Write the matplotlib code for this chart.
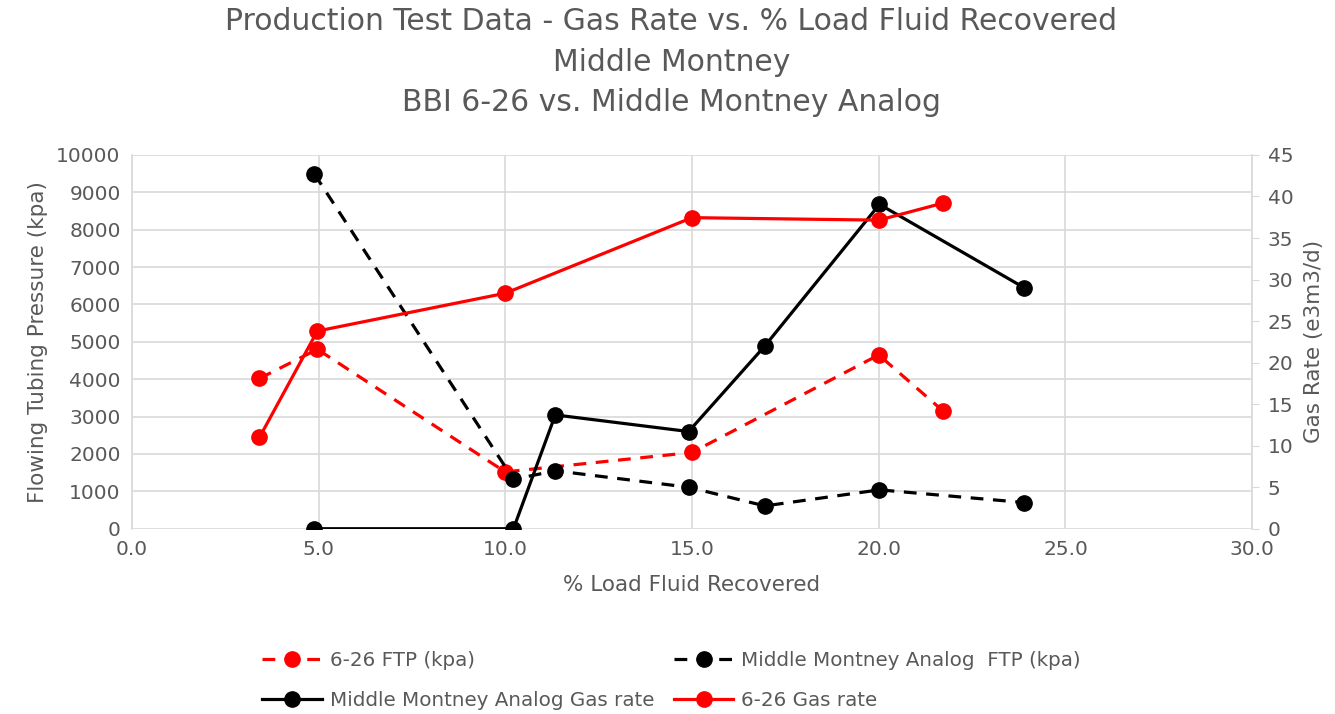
import matplotlib
matplotlib.use("Agg")
import matplotlib.pyplot as plt

# 6-26 well (red)
x_626 = [3.42, 4.97, 10.0, 15.0, 20.0, 21.72]
ftp_626 = [4020, 4800, 1520, 2040, 4650, 3150]
gas_626 = [11.0, 23.8, 28.35, 37.45, 37.15, 39.2]

# Middle Montney analog (black)
x_analog = [4.89, 10.22, 11.34, 14.91, 16.95, 20.02, 23.9]
ftp_analog = [9490, 1320, 1550, 1110, 610, 1040, 700]
gas_analog = [0, 0, 13.7, 11.7, 22.0, 39.05, 29.0]

xticks = [0, 5, 10, 15, 20, 25, 30]
left_ticks = list(range(0, 10001, 1000))
right_ticks = list(range(0, 46, 5))

grey = '#595959'
grid = '#d9d9d9'
plt.rcParams['font.family'] = 'DejaVu Sans'

fig = plt.figure(figsize=(13.35, 7.14), dpi=100)
ax = fig.add_axes([0.0987, 0.2595, 0.8393, 0.5235])
ax2 = ax.twinx()

lw = 2.3
ms = 11
dash = (4, 3)

l1, = ax.plot(x_626, ftp_626, color='red', lw=lw, ls='--', dashes=dash,
              marker='o', ms=ms, label='6-26 FTP (kpa)', zorder=3)
l2, = ax.plot(x_analog, ftp_analog, color='black', lw=lw, ls='--', dashes=dash,
              marker='o', ms=ms, label='Middle Montney Analog  FTP (kpa)', zorder=3)
l3, = ax2.plot(x_analog, gas_analog, color='black', lw=lw,
               marker='o', ms=ms, label='Middle Montney Analog Gas rate', zorder=3)
l4, = ax2.plot(x_626, gas_626, color='red', lw=lw,
               marker='o', ms=ms, label='6-26 Gas rate', zorder=3)

ax.set_xlim(0, 30)
ax.set_ylim(0, 10000)
ax2.set_ylim(0, 45)
ax.set_xticks(xticks)
ax.set_xticklabels([f'{v:.1f}' for v in xticks])
ax.set_yticks(left_ticks)
ax2.set_yticks(right_ticks)

# gridlines like the spreadsheet style
ax.grid(True, color=grid, lw=1.2)
ax.set_axisbelow(True)
for a in (ax, ax2):
    for s in a.spines.values():
        s.set_visible(False)
ax2.spines['right'].set_visible(True)
ax2.spines['right'].set_color(grid)
ax2.spines['right'].set_linewidth(1.2)
ax.spines['left'].set_visible(True)
ax.spines['left'].set_color(grid)
ax.spines['left'].set_linewidth(1.2)

ax.tick_params(axis='both', length=0, labelsize=14.5, labelcolor=grey, pad=8)
ax2.tick_params(axis='y', length=5, color=grid, labelsize=14.5, labelcolor=grey, pad=6)

ax.set_xlabel('% Load Fluid Recovered', fontsize=15.5, color=grey, labelpad=12)
ax.set_ylabel('Flowing Tubing Pressure (kpa)', fontsize=15.5, color=grey, labelpad=6)
ax2.set_ylabel('Gas Rate (e3m3/d)', fontsize=15.5, color=grey, labelpad=8)

fig.text(0.503, 0.99, 'Production Test Data - Gas Rate vs. % Load Fluid Recovered\n'
         'Middle Montney\nBBI 6-26 vs. Middle Montney Analog',
         ha='center', va='top', fontsize=21.5, color=grey, linespacing=1.5)

handles = [l1, l3, l2, l4]
leg = fig.legend(handles=handles, labels=[h.get_label() for h in handles],
                 loc='center', bbox_to_anchor=(0.503, 0.047), ncol=2,
                 frameon=False, fontsize=14.3, handlelength=3, labelspacing=1.1,
                 columnspacing=1.0, handletextpad=0.4)
for t in leg.get_texts():
    t.set_color(grey)

fig.savefig('out.png', dpi=100)
